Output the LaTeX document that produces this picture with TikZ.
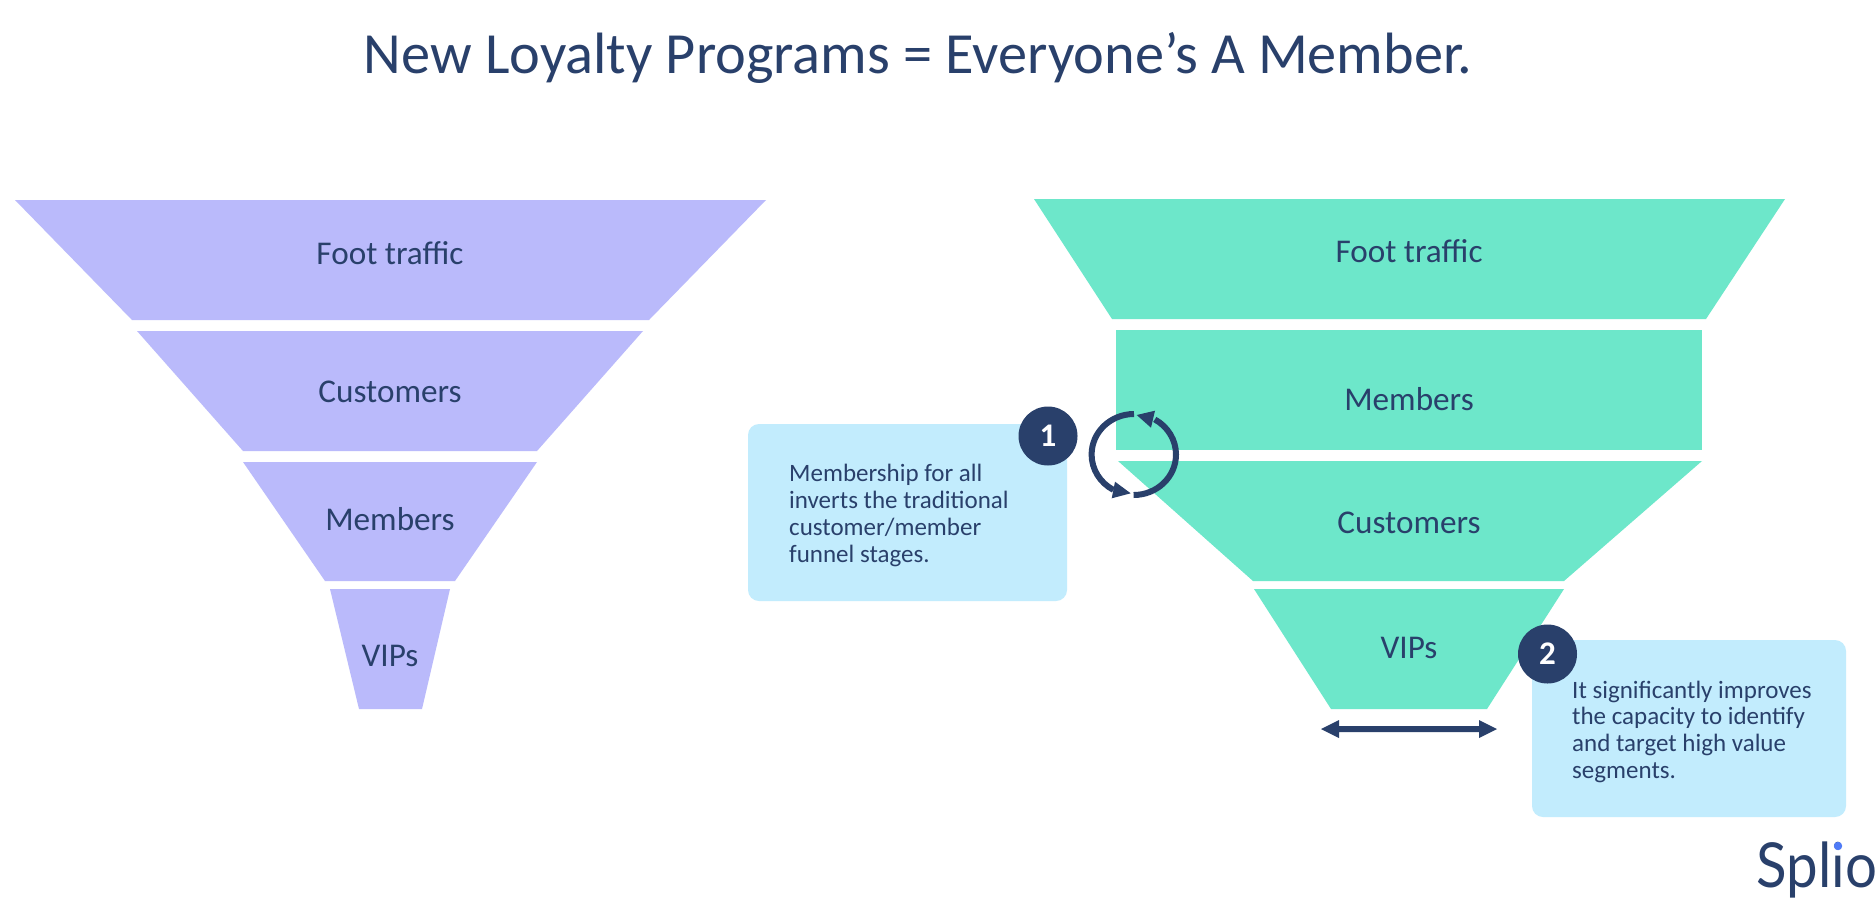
\documentclass[tikz,border=0pt]{standalone}
\usepackage{fontspec}
\setmainfont{Carlito}
\newfontfamily\logofont{Lato}
\definecolor{navy}{HTML}{29406B}
\definecolor{lav}{HTML}{BABAFB}
\definecolor{mint}{HTML}{6DE7CA}
\definecolor{sky}{HTML}{C2ECFD}
\definecolor{dotblue}{HTML}{4F7BF7}
\tikzset{
  lavfill/.style={fill=lav,draw=none},
  mintfill/.style={fill=mint,draw=none},
  stage/.style={text=navy,font=\fontsize{33.2}{40}\selectfont,inner sep=0pt,anchor=base},
  notebox/.style={fill=sky,draw=none,rounded corners=11pt},
  notetext/.style={text=navy,font=\fontsize{25}{26.9}\selectfont,inner sep=0pt,anchor=north west,align=left},
  badge/.style={circle,fill=navy,text=white,minimum size=59pt,inner sep=0pt,font=\bfseries\fontsize{33}{40}\selectfont},
  cyc/.style={draw=navy,line width=6pt},
  headfill/.style={fill=navy,draw=none},
}
\begin{document}
\begin{tikzpicture}[x=1pt,y=-1pt]
\useasboundingbox (0,0) rectangle (1876,903);
\fill[white] (0,0) rectangle (1876,903);
\node[text=navy,font=\fontsize{58.3}{70}\selectfont,inner sep=0pt,anchor=base] (title) at (918,73) {New Loyalty Programs = Everyone’s A Member.};
% left funnel
\path[lavfill] (15,200) -- (766,200) -- (649,320) -- (132,320) -- cycle;
\path[lavfill] (137,331) -- (643,331) -- (537,451) -- (243,451) -- cycle;
\path[lavfill] (243,462) -- (537,462) -- (455,581) -- (325,581) -- cycle;
\path[lavfill] (330,589) -- (450,589) -- (422,709) -- (359,709) -- cycle;
\node[stage] (lfoot) at (390,264) {Foot traffic};
\node[stage] (lcust) at (390,402) {Customers};
\node[stage] (lmem) at (390,530) {Members};
\node[stage] (lvip) at (390,666) {VIPs};
% right funnel
\path[mintfill] (1034,199) -- (1785,199) -- (1706,319) -- (1112,319) -- cycle;
\path[mintfill] (1116,330) -- (1702,330) -- (1702,450) -- (1116,450) -- cycle;
\path[mintfill] (1118,461) -- (1702,461) -- (1564,581) -- (1253,581) -- cycle;
\path[mintfill] (1254,589) -- (1564,589) -- (1487,709) -- (1331,709) -- cycle;
\node[stage] (rfoot) at (1409,262) {Foot traffic};
\node[stage] (rmem) at (1409,410) {Members};
\node[stage] (rcust) at (1409,533) {Customers};
\node[stage] (rvip) at (1409,658) {VIPs};
% double arrow
\path[fill=navy] (1321,729) -- (1339,720) -- (1339,726) -- (1479,726) -- (1479,720) -- (1497,729) -- (1479,738) -- (1479,732) -- (1339,732) -- (1339,738) -- cycle;
% note 1
\path[notebox] (748,424) rectangle (1067,601);
\node[notetext] (note1) at (789,464) {Membership for all\\inverts the traditional\\customer/member\\funnel stages.};
\node[badge] (b1) at (1048,436) {1};
% cycle arrows
\draw[cyc] (1134,414) arc[start angle=90,end angle=241,x radius=42.4pt,y radius=40.5pt];
\path[headfill] (1111.7,498.3) -- (1115,481.7) -- (1130.7,493.3) -- cycle;
\draw[cyc] (1133.6,495) arc[start angle=270,end angle=420,x radius=42.4pt,y radius=40.5pt];
\path[headfill] (1136.7,415) -- (1155,410.7) -- (1151,427.7) -- cycle;
% note 2
\path[notebox] (1532,640) rectangle (1846,817);
\node[notetext] (note2) at (1572,680.5) {It significantly improves\\the capacity to identify\\and target high value\\segments.};
\node[badge] (b2) at (1547.5,654) {2};
% logo
\node[text=navy,font=\logofont\fontsize{62}{70}\selectfont,inner sep=0pt,anchor=base,xscale=0.91] (logo) at (1817,887) {Splio};
\fill[dotblue] (1838,846) circle[radius=4.2pt];
\end{tikzpicture}
\end{document}
